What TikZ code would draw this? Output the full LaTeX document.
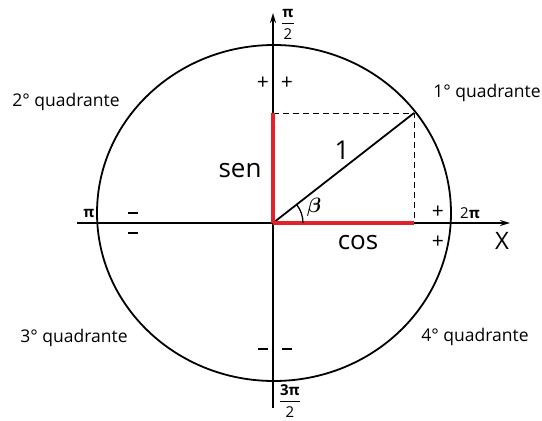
\documentclass[tikz,border=0pt]{standalone}
\usepackage{amsmath}
\usepackage{fontspec}
\setmainfont{Open Sans}
\usetikzlibrary{arrows.meta}
\definecolor{trigred}{RGB}{228,32,40}

\begin{document}
\begin{tikzpicture}[x=1pt, y=-1pt, >={Stealth[length=10pt,width=6pt]}, line width=1.8pt,
  quad/.style={font=\fontsize{17.5}{20}\selectfont, inner sep=0pt},
  frac/.style={font=\fontsize{15}{18}\selectfont, inner sep=0pt},
  sgn/.style={font=\fontsize{21}{24}\selectfont, inner sep=0pt},
  ang/.style={font=\fontsize{20}{22}\selectfont, inner sep=0pt},
  big/.style={font=\fontsize{26}{30}\selectfont, inner sep=0pt},
  trig/.style={draw=trigred, line width=4pt}]
\useasboundingbox (0,0) rectangle (542,421);

\coordinate (O) at (273,223);
\coordinate (C) at (274,213);
\coordinate (P) at (414,113);
\coordinate (Px) at (414,223);
\coordinate (Py) at (273,113);
\coordinate (xl) at (77,223);
\coordinate (xr) at (510,223);
\coordinate (yb) at (273,408);
\coordinate (yt) at (273,13);

% unit circle and axes
\draw (C) ellipse [x radius=177pt, y radius=168pt];
\draw[->] (xl) -- (xr);
\draw[->] (yb) -- (yt);

% projections of P
\draw[dashed, line width=0.8pt, dash pattern=on 6pt off 4pt] (Py) -- (P) -- (Px);
\draw (O) -- (P);
\draw[trig] (O) -- (Px);
\draw[trig] (O) -- (Py);
\draw[line width=1.3pt] (O) ++(30pt,0pt) arc [start angle=0, end angle=38, radius=30pt];

% labels
\node[big] (sen) at (240,171) {sen};
\node[big] (cos) at (358,243) {cos};
\node[big] (one) at (342,150) {1};
\node[ang] (beta) at (314,207) {$\boldsymbol{\beta}$};
\node[font=\fontsize{24}{26}\selectfont, inner sep=0pt] (xlab) at (502,241) {X};

\node[frac] (halfpi) at (288,24) {$\genfrac{}{}{1.4pt}{0}{\textbf{π}}{\text{2}}$};
\node[frac] (threehalfpi) at (290,401) {$\genfrac{}{}{1.4pt}{0}{\textbf{3π}}{\text{2}}$};
\node[frac] (pi) at (89,213) {\textbf{π}};
\node[frac] (twopi) at (470,213) {2\textbf{π}};

\foreach \n/\x/\y/\s in {p1/263/83/+, p2/287/83/+, p3/438/212/+, p4/438/242/+}{
  \node[sgn] (\n) at (\x,\y) {\s};
}
\foreach \n/\x/\y in {m1/133/213, m2/133/233, m3/263/349, m4/287/349}{
  \node[sgn] (\n) at (\x,\y) {\rule{10pt}{2pt}};
}

\foreach \n/\x/\y/\t in {q1/487/93/1, q2/66/102/2, q3/74/338/3, q4/475/337/4}{
  \node[quad] (\n) at (\x,\y) {\t° quadrante};
}
\end{tikzpicture}
\end{document}
